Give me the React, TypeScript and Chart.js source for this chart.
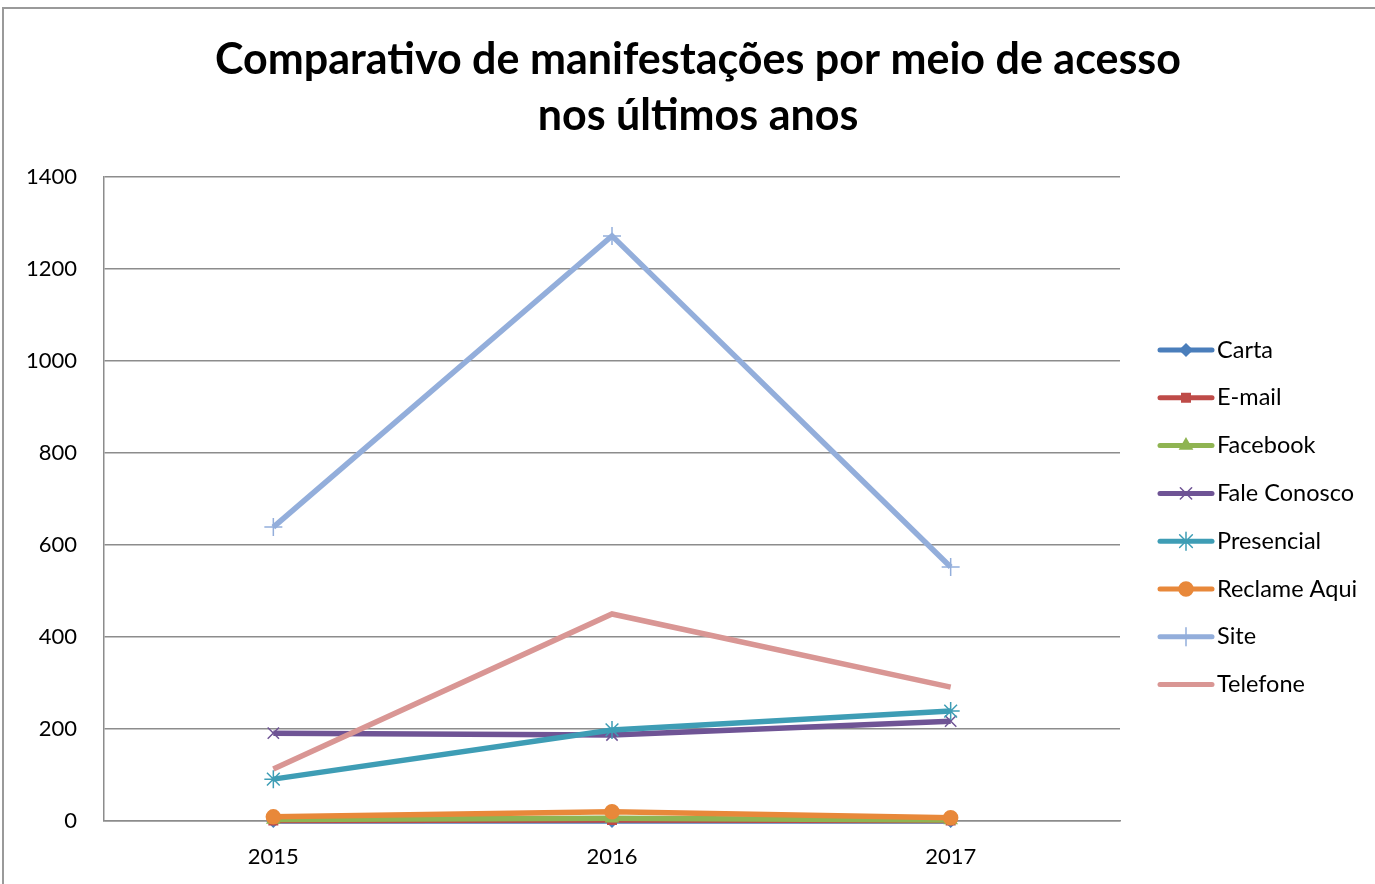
import React, { useEffect, useRef } from "react";
import { Chart, registerables } from "chart.js";
import { drawPoint } from "chart.js/helpers";

Chart.register(...registerables);

const titleLines = ["Comparativo de manifestações por meio de acesso", "nos últimos anos"];
const years = ["2015", "2016", "2017"];
const seriesNames = ["Carta", "E-mail", "Facebook", "Fale Conosco", "Presencial", "Reclame Aqui", "Site", "Telefone"];
const carta = [0, 0, 0];
const email = [1, 2, 1];
const facebook = [3, 6, 2];
const faleConosco = [191, 187, 217];
const presencial = [91, 198, 239];
const reclameAqui = [9, 20, 7];
const site = [639, 1272, 552];
const telefone = [113, 450, 291];
const yTicks = [0, 200, 400, 600, 800, 1000, 1200, 1400];

const seriesValues = [carta, email, facebook, faleConosco, presencial, reclameAqui, site, telefone];
const colors = ["#4A7EBB", "#BE4B48", "#8FB452", "#6F5495", "#3E9DB5", "#E8883A", "#93AEDB", "#D99694"];
const pointStyles: any[] = ["rectRot", "rect", "triangle", "crossRot", "star", "circle", "cross", false];
const pointRadii = [6, 6, 7, 8, 9, 7, 9, 0];

const FONT = "Lato, 'Open Sans', sans-serif";

const customPlugin = {
  id: "customDecor",
  beforeDraw(chart: any) {
    const ctx = chart.ctx;
    ctx.save();
    ctx.fillStyle = "#ffffff";
    ctx.fillRect(0, 0, chart.width, chart.height);
    ctx.strokeStyle = "#9a9a9a";
    ctx.lineWidth = 2;
    ctx.strokeRect(3, 8, chart.width + 20, chart.height + 20);
    ctx.restore();
  },
  afterDraw(chart: any) {
    const ctx = chart.ctx;
    ctx.save();
    // title
    ctx.fillStyle = "#000000";
    ctx.font = `bold 43px ${FONT}`;
    ctx.textAlign = "center";
    ctx.textBaseline = "middle";
    ctx.fillText(titleLines[0], 698, 60);
    ctx.fillText(titleLines[1], 698, 116);
    // legend
    const x0 = 1160;
    const x1 = 1212;
    const startY = 350;
    const step = 47.8;
    seriesNames.forEach((name, i) => {
      const y = startY + i * step;
      ctx.strokeStyle = colors[i];
      ctx.lineWidth = 5;
      ctx.lineCap = "round";
      ctx.beginPath();
      ctx.moveTo(x0, y);
      ctx.lineTo(x1, y);
      ctx.stroke();
      if (pointStyles[i]) {
        ctx.fillStyle = colors[i];
        ctx.strokeStyle = colors[i];
        ctx.lineWidth = 1.5;
        drawPoint(ctx, { pointStyle: pointStyles[i], radius: pointRadii[i], rotation: 0, borderWidth: 1.5 }, (x0 + x1) / 2, y);
      }
      ctx.fillStyle = "#000000";
      ctx.font = `23.5px ${FONT}`;
      ctx.textAlign = "left";
      ctx.textBaseline = "middle";
      ctx.fillText(name, 1217, y);
    });
    ctx.restore();
  },
};

export default function App() {
  const ref = useRef<HTMLCanvasElement | null>(null);
  useEffect(() => {
    if (!ref.current) return;
    const datasets = seriesNames.map((name, i) => ({
      label: name,
      data: seriesValues[i],
      borderColor: colors[i],
      backgroundColor: colors[i],
      borderWidth: 5.5,
      pointStyle: pointStyles[i],
      pointRadius: pointRadii[i],
      pointHoverRadius: pointRadii[i],
      pointBorderWidth: 1.5,
      pointBackgroundColor: colors[i],
      pointBorderColor: colors[i],
      tension: 0,
      clip: false as any,
      order: seriesNames.length - 1 - i,
    }));
    const chart = new Chart(ref.current, {
      type: "line",
      data: { labels: years, datasets },
      plugins: [customPlugin],
      options: {
        responsive: false,
        animation: false,
        layout: { padding: { top: 177, left: 0, right: 255, bottom: 0 } },
        plugins: {
          legend: { display: false },
          title: { display: false },
          tooltip: { enabled: false },
        },
        scales: {
          x: {
            offset: true,
            afterFit: (s: any) => { s.height = 63; },
            grid: { display: false, drawTicks: false },
            border: { display: true, color: "#8c8c8c", width: 1.5 },
            ticks: { padding: 23, color: "#000", font: { family: FONT, size: 22 } },
          },
          y: {
            min: 0,
            max: 1400,
            afterFit: (s: any) => { s.width = 104; },
            afterBuildTicks: (s: any) => { s.ticks = yTicks.map((v) => ({ value: v })); },
            grid: { color: "#8c8c8c", lineWidth: 1.5, drawTicks: false },
            border: { display: true, color: "#8c8c8c", width: 1.5 },
            ticks: {
              padding: 27,
              color: "#000",
              font: { family: FONT, size: 22 },
              callback: (v: any) => String(v),
            },
          },
        },
      },
    });
    return () => chart.destroy();
  }, []);
  return (
    <div style={{ position: "absolute", left: 0, top: 0, width: 1375, height: 884 }}>
      <canvas ref={ref} width={1375} height={884} style={{ width: 1375, height: 884 }} />
    </div>
  );
}
